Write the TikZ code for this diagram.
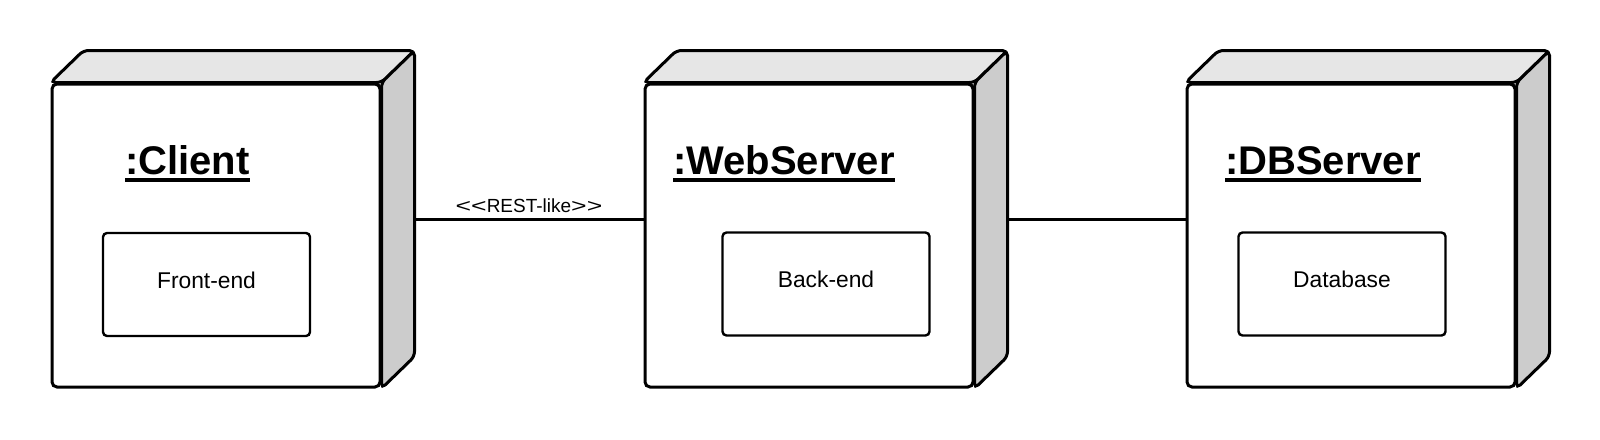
\documentclass[tikz,border=0pt]{standalone}
\usepackage{fontspec}
\setmainfont{Liberation Sans}
\usetikzlibrary{calc,backgrounds}
\definecolor{topgray}{HTML}{E6E6E6}
\definecolor{sidegray}{HTML}{CCCCCC}
\newcommand{\nodetitle}[1]{\setbox0=\hbox{#1}\vtop{\copy0\kern-\dp0\kern2pt\hrule height 2pt}}
\newcommand{\widelt}{\scalebox{1.4}[1]{<}}
\newcommand{\widegt}{\scalebox{1.4}[1]{>}}
\begin{document}
\begin{tikzpicture}[x=0.5pt,y=-0.5pt,
    front/.style={draw, fill=white, line width=1.5pt, rounded corners=2.5pt, inner sep=0pt, minimum width=164pt, minimum height=151.5pt},
    artifact/.style={draw, line width=1.2pt, rounded corners=2pt, minimum width=103.5pt, minimum height=51.5pt, font=\fontsize{11.4}{13}\selectfont, text height=8.2pt, text depth=4.7pt},
    heading/.style={anchor=base, inner sep=0pt, font=\fontsize{20}{24}\selectfont\bfseries},
    link/.style={line width=1.5pt},
    lbl/.style={inner sep=0pt, above=2.5pt, font=\fontsize{9.5}{11}\selectfont}]
    \useasboundingbox (0,0) rectangle (1600,439);
        \node[front] (client) at (216,235.5) {};
        \node[front] (web) at (809,235.5) {};
        \node[front] (db) at (1351,235.5) {};
        \begin{scope}[on background layer]
        \foreach \n in {client,web,db} {
            \path[draw,line width=1.5pt,rounded corners=2.5pt,fill=topgray] (\n.north west) -- ++(33,-32) -- ($(\n.north east)+(33,-32)$) -- (\n.north east) -- cycle;
            \path[draw,line width=1.5pt,rounded corners=2.5pt,fill=sidegray] (\n.north east) -- ++(33,-32) -- ($(\n.south east)+(33,-32)$) -- (\n.south east) -- cycle;
        }
        \end{scope}
        \node[heading] (client-title) at (187.5,174) {\nodetitle{:Client}};
        \node[heading] (web-title) at (784,174) {\nodetitle{:WebServer}};
        \node[heading] (db-title) at (1323,174) {\nodetitle{:DBServer}};
        \node[artifact] (frontend) at (206.5,284.5) {Front-end};
        \node[artifact] (backend) at (826,284) {Back-end};
        \node[artifact] (database) at (1342,284) {Database};
        \coordinate (client-side) at ($(client.east)+(33,-16.5)$);
        \coordinate (web-side) at ($(web.east)+(33,-16.5)$);
        \path[draw,link] (client-side) -- (client-side -| web.west) node[lbl,midway] {\widelt\widelt REST-like\widegt\widegt};
        \path[draw,link] (web-side) -- (web-side -| db.west);
\end{tikzpicture}
\end{document}
